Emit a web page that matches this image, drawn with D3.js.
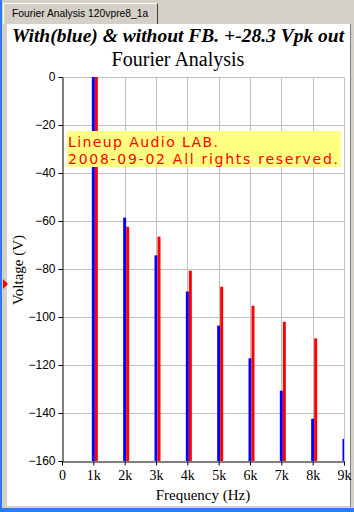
<!DOCTYPE html>
<html>
<head>
<meta charset="utf-8">
<script src="https://cdn.jsdelivr.net/npm/d3@7"></script>
<style>
  body { margin: 0; background: #d4d0c8; }
  svg { display: block; }
</style>
</head>
<body>
<div id="chart"></div>
<script>
// harmonic frequencies (Hz)
const freqs = [1000, 2000, 3000, 4000, 5000, 6000, 7000, 8000, 9000];
// with feedback (blue), dB
const withFB = [0, -58.6, -74.3, -89.4, -103.6, -117.2, -130.7, -142.4, -150.8];
// without feedback (red), dB
const withoutFB = [0, -62.4, -66.5, -80.7, -87.4, -95.3, -102.0, -108.9, null];

const xTicks = [0, 1000, 2000, 3000, 4000, 5000, 6000, 7000, 8000, 9000];
const xTickLabels = ["0", "1k", "2k", "3k", "4k", "5k", "6k", "7k", "8k", "9k"];
const yTicks = [0, -20, -40, -60, -80, -100, -120, -140, -160];

const W = 354, H = 512;

let svg = d3.select("#chart").append("svg")
    .attr("width", W)
    .attr("height", H);

// window frame
svg.append("rect").attr("x", 0).attr("y", 0).attr("width", W).attr("height", H).style("fill", "#d4d0c8");
svg.append("rect").attr("x", 0).attr("y", 0).attr("width", 2).attr("height", H).style("fill", "#2a7cf0");
svg.append("rect").attr("x", 0).attr("y", 508).attr("width", W).attr("height", 4).style("fill", "#2a7cf0");

// tab
svg.append("path").attr("d", "M3.5,24 V3.5 H157.5").style("fill", "none").style("stroke", "#ffffff");
svg.append("path").attr("d", "M157.5,3.5 V24").style("fill", "none").style("stroke", "#404040");
svg.append("text")
    .attr("x", 12).attr("y", 17)
    .style("font-family", "'Liberation Sans', Arial, sans-serif")
    .style("font-size", "10.3px")
    .text("Fourier Analysis 120vpre8_1a");

// white content panel
svg.append("rect").attr("x", 7).attr("y", 24).attr("width", 343).attr("height", 482).style("fill", "#ffffff");
svg.append("line").attr("x1", 350.5).attr("x2", 350.5).attr("y1", 24).attr("y2", 507).style("stroke", "#808080");

// titles
svg.append("text")
    .attr("x", 178).attr("y", 42)
    .style("text-anchor", "middle")
    .style("font-family", "'Liberation Serif', 'Times New Roman', serif")
    .style("font-weight", "700")
    .style("font-style", "italic")
    .style("font-size", "19.5px")
    .text("With(blue) & without FB. +-28.3 Vpk out");

svg.append("text")
    .attr("x", 178).attr("y", 66)
    .style("text-anchor", "middle")
    .style("font-family", "'Liberation Serif', 'Times New Roman', serif")
    .style("font-size", "20px")
    .text("Fourier Analysis");

// scales
let x = d3.scaleLinear().domain([0, 9000]).range([62, 344]);
let y = d3.scaleLinear().domain([-160, 0]).range([461, 77]);

// grid
let grid = svg.append("g").attr("class", "grid");
grid.selectAll(".hgrid")
    .data(yTicks.filter(d => d > -160))
    .enter().append("line")
    .attr("x1", x(0)).attr("x2", x(9000))
    .attr("y1", d => Math.round(y(d)) + 0.5)
    .attr("y2", d => Math.round(y(d)) + 0.5)
    .style("stroke", "#c0c0c0");
grid.selectAll(".vgrid")
    .data(xTicks.filter(d => d > 0))
    .enter().append("line")
    .attr("x1", d => Math.round(x(d)) + 0.5)
    .attr("x2", d => Math.round(x(d)) + 0.5)
    .attr("y1", y(0)).attr("y2", y(-160))
    .style("stroke", "#c0c0c0");

// bars
svg.append("clipPath").attr("id", "plotClip")
    .append("rect").attr("x", x(0)).attr("y", y(0)).attr("width", x(9000) - x(0)).attr("height", y(-160) - y(0));

let bars = svg.append("g").attr("clip-path", "url(#plotClip)");
let blueData = freqs.map((f, i) => ({ f: f, v: withFB[i] })).filter(d => d.v !== null);
let redData = freqs.map((f, i) => ({ f: f, v: withoutFB[i] })).filter(d => d.v !== null);

bars.selectAll(".bar-blue")
    .data(blueData)
    .enter().append("rect")
    .attr("class", "bar-blue")
    .attr("x", d => x(d.f) - 1.5)
    .attr("width", 3)
    .attr("y", d => y(d.v))
    .attr("height", d => y(-160) - y(d.v))
    .style("fill", "#0000ff");

bars.selectAll(".bar-red")
    .data(redData)
    .enter().append("rect")
    .attr("class", "bar-red")
    .attr("x", d => x(d.f) + 1.5)
    .attr("width", 3)
    .attr("y", d => y(d.v))
    .attr("height", d => y(-160) - y(d.v))
    .style("fill", "#ff0000");

// axes
let xAxis = d3.axisBottom(x).tickValues(xTicks).tickSize(4).tickSizeOuter(0)
    .tickFormat((d, i) => xTickLabels[i]);
let yAxis = d3.axisLeft(y).tickValues(yTicks).tickSize(4).tickSizeOuter(0);

let gx = svg.append("g")
    .attr("class", "x-axis axis")
    .attr("transform", "translate(0," + (y(-160) + 0.5) + ")")
    .call(xAxis);
gx.selectAll("text")
    .style("font-family", "'Liberation Serif', 'Times New Roman', serif")
    .style("font-size", "14px")
    .attr("dy", "0.85em");

let gy = svg.append("g")
    .attr("class", "y-axis axis")
    .attr("transform", "translate(" + (x(0) + 0.5) + ",0)")
    .call(yAxis);
gy.selectAll("text")
    .style("font-family", "'Liberation Sans', Arial, sans-serif")
    .style("font-size", "12px");

svg.selectAll(".axis path, .axis line").style("stroke", "#000000");

// axis titles
svg.append("text")
    .attr("x", 203).attr("y", 500)
    .style("text-anchor", "middle")
    .style("font-family", "'Liberation Serif', 'Times New Roman', serif")
    .style("font-size", "15px")
    .text("Frequency (Hz)");

svg.append("text")
    .attr("transform", "translate(23,270) rotate(-90)")
    .style("text-anchor", "middle")
    .style("font-family", "'Liberation Serif', 'Times New Roman', serif")
    .style("font-size", "15px")
    .text("Voltage (V)");

// little red marker on the left edge
svg.append("path").attr("d", "M3,279 L8,284 L3,289 Z").style("fill", "#ff0000");

// copyright box
svg.append("rect")
    .attr("x", 67).attr("y", 131)
    .attr("width", 274).attr("height", 36)
    .style("fill", "#ffff80");
svg.append("text")
    .attr("x", 68).attr("y", 147)
    .attr("textLength", 150)
    .style("font-family", "'DejaVu Sans', Tahoma, sans-serif")
    .style("font-size", "14px")
    .style("fill", "#ff0000")
    .text("Lineup Audio LAB.");
svg.append("text")
    .attr("x", 68).attr("y", 164)
    .attr("textLength", 270)
    .style("font-family", "'DejaVu Sans', Tahoma, sans-serif")
    .style("font-size", "14px")
    .style("fill", "#ff0000")
    .text("2008-09-02 All rights reserved.");
</script>
</body>
</html>
